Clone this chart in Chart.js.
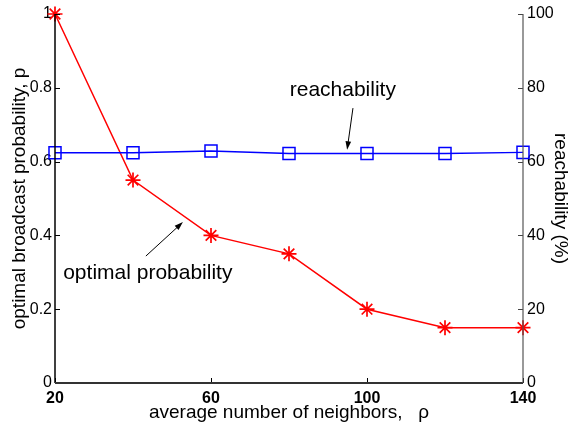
<!DOCTYPE html>
<html>
<head>
<meta charset="utf-8">
<script src="https://cdn.jsdelivr.net/npm/chart.js@4/dist/chart.umd.min.js"></script>
<style>
  html, body { margin: 0; padding: 0; background: #ffffff; }
  #wrap { width: 576px; height: 427px; }
</style>
</head>
<body>
<div id="wrap"><canvas id="c" width="576" height="427"></canvas></div>
<script>
// Average number of neighbours on the x axis
const neighbors = [20, 40, 60, 80, 100, 120, 140];
// Optimal broadcast probability p (left axis)
const optimalProb = [1.0, 0.55, 0.40, 0.35, 0.20, 0.15, 0.15];
// Reachability in percent (right axis)
const reachability = [62.4, 62.4, 62.9, 62.2, 62.2, 62.2, 62.5];

const xTicks = [20, 60, 100, 140];
const leftTicks = [0, 0.2, 0.4, 0.6, 0.8, 1];
const rightTicks = [0, 20, 40, 60, 80, 100];

// Text callouts with arrows, positioned in data units (x, left-axis y)
const callouts = [
  { text: 'reachability', at: [93.8, 0.794], from: [96.4, 0.745], to: [94.9, 0.632] },
  { text: 'optimal probability', at: [43.8, 0.298], from: [43.3, 0.344], to: [52.8, 0.436] }
];

const FONT = "'Liberation Sans', Arial, Helvetica, sans-serif";
Chart.defaults.font.family = FONT;
Chart.defaults.color = '#000';

// Draws the axis frame, inward tick marks and the callouts
const framePlugin = {
  id: 'frame',
  afterDatasetsDraw(chart) {
    const { ctx, chartArea: a, scales } = chart;
    const x = scales.x, yl = scales.y, yr = scales.y1;
    ctx.save();
    // inward ticks
    ctx.lineWidth = 1;
    ctx.strokeStyle = '#000';
    ctx.beginPath();
    leftTicks.forEach(v => {
      const py = Math.round(yl.getPixelForValue(v)) + 0.5;
      ctx.moveTo(a.left, py); ctx.lineTo(a.left + 5, py);
    });
    xTicks.forEach(v => {
      const px = Math.round(x.getPixelForValue(v)) + 0.5;
      ctx.moveTo(px, a.bottom); ctx.lineTo(px, a.bottom - 5);
    });
    ctx.stroke();
    ctx.strokeStyle = '#444';
    ctx.beginPath();
    rightTicks.forEach(v => {
      const py = Math.round(yr.getPixelForValue(v)) + 0.5;
      ctx.moveTo(a.right, py); ctx.lineTo(a.right - 5, py);
    });
    ctx.stroke();
    // axis lines
    ctx.lineWidth = 1.5;
    ctx.strokeStyle = '#000';
    ctx.beginPath();
    ctx.moveTo(a.left, a.top); ctx.lineTo(a.left, a.bottom);
    ctx.stroke();
    ctx.lineWidth = 2;
    ctx.strokeStyle = '#333';
    ctx.beginPath();
    ctx.moveTo(a.left, a.bottom); ctx.lineTo(a.right, a.bottom);
    ctx.stroke();
    ctx.lineWidth = 1.2;
    ctx.strokeStyle = '#555';
    ctx.beginPath();
    ctx.moveTo(a.right, a.top); ctx.lineTo(a.right, a.bottom);
    ctx.stroke();

    // callouts
    ctx.fillStyle = '#000';
    ctx.strokeStyle = '#000';
    ctx.lineWidth = 1;
    ctx.font = '21px ' + FONT;
    ctx.textAlign = 'center';
    ctx.textBaseline = 'middle';
    callouts.forEach(c => {
      ctx.fillText(c.text, x.getPixelForValue(c.at[0]), yl.getPixelForValue(c.at[1]));
      const x1 = x.getPixelForValue(c.from[0]), y1 = yl.getPixelForValue(c.from[1]);
      const x2 = x.getPixelForValue(c.to[0]), y2 = yl.getPixelForValue(c.to[1]);
      const ang = Math.atan2(y2 - y1, x2 - x1);
      const len = 9, half = 0.32;
      ctx.beginPath();
      ctx.moveTo(x1, y1); ctx.lineTo(x2 - Math.cos(ang) * 4, y2 - Math.sin(ang) * 4);
      ctx.stroke();
      ctx.beginPath();
      ctx.moveTo(x2, y2);
      ctx.lineTo(x2 - len * Math.cos(ang - half), y2 - len * Math.sin(ang - half));
      ctx.lineTo(x2 - len * Math.cos(ang + half), y2 - len * Math.sin(ang + half));
      ctx.closePath();
      ctx.fill();
    });
    ctx.restore();
  }
};

new Chart(document.getElementById('c'), {
  type: 'line',
  data: {
    datasets: [
      {
        label: 'optimal probability',
        data: neighbors.map((n, i) => ({ x: n, y: optimalProb[i] })),
        yAxisID: 'y',
        borderColor: '#ff0000',
        borderWidth: 1.5,
        pointStyle: 'star',
        pointRadius: 7.5,
        pointBorderWidth: 1.7,
        pointBorderColor: '#ff0000',
        pointBackgroundColor: '#ff0000',
        tension: 0,
        clip: false,
        order: 2
      },
      {
        label: 'reachability',
        data: neighbors.map((n, i) => ({ x: n, y: reachability[i] })),
        yAxisID: 'y1',
        borderColor: '#0000ff',
        borderWidth: 1.5,
        pointStyle: 'rect',
        pointRadius: 8.5,
        pointBorderWidth: 1.5,
        pointBorderColor: '#0000ff',
        pointBackgroundColor: 'rgba(0,0,0,0)',
        tension: 0,
        clip: false,
        order: 1
      }
    ]
  },
  options: {
    responsive: false,
    animation: false,
    devicePixelRatio: 1,
    layout: { padding: { top: 14, left: 0, right: 0, bottom: 0 } },
    plugins: { legend: { display: false }, tooltip: { enabled: false } },
    scales: {
      x: {
        type: 'linear',
        min: 20, max: 140,
        afterBuildTicks: s => { s.ticks = xTicks.map(v => ({ value: v })); },
        afterFit: s => { s.height = 44; },
        grid: { display: false, drawTicks: false },
        border: { display: false },
        ticks: { padding: 6, font: { size: 16, weight: 'bold' }, color: '#000' },
        title: {
          display: true,
          text: 'average number of neighbors,   ρ',
          font: { size: 19 },
          color: '#000',
          padding: { top: 0, bottom: 3 }
        }
      },
      y: {
        type: 'linear',
        position: 'left',
        min: 0, max: 1,
        afterBuildTicks: s => { s.ticks = leftTicks.map(v => ({ value: v })); },
        afterFit: s => { s.width = 55; },
        grid: { display: false, drawTicks: false },
        border: { display: false },
        ticks: { padding: 3, font: { size: 16 }, color: '#000', callback: v => String(v) },
        title: {
          display: true,
          text: 'optimal broadcast probability, p',
          font: { size: 19 },
          color: '#000',
          padding: { top: 8, bottom: 0 }
        }
      },
      y1: {
        type: 'linear',
        position: 'right',
        min: 0, max: 100,
        afterBuildTicks: s => { s.ticks = rightTicks.map(v => ({ value: v })); },
        afterFit: s => { s.width = 53; },
        grid: { display: false, drawTicks: false },
        border: { display: false },
        ticks: { padding: 4, font: { size: 16 }, color: '#000' },
        title: {
          display: true,
          text: 'reachability (%)',
          font: { size: 19 },
          color: '#000',
          padding: { top: 4, bottom: 0 }
        }
      }
    }
  },
  plugins: [framePlugin]
});
</script>
</body>
</html>
